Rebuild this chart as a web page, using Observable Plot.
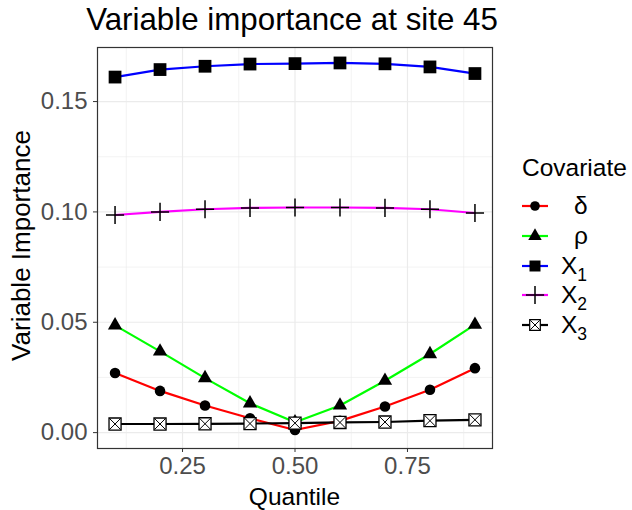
<!DOCTYPE html>
<html><head><meta charset="utf-8">
<script src="https://cdn.jsdelivr.net/npm/d3@7"></script>
<script src="https://cdn.jsdelivr.net/npm/@observablehq/plot@0.6"></script>
<style>body{margin:0;background:#fff}</style>
</head><body><div id="chart"></div>
<script>
const quantiles = [0.1, 0.2, 0.3, 0.4, 0.5, 0.6, 0.7, 0.8, 0.9];
const delta = [0.0270, 0.0189, 0.0123, 0.0065, 0.0012, 0.0053, 0.0118, 0.0194, 0.0292];
const rho   = [0.0486, 0.0368, 0.0247, 0.0133, 0.0047, 0.0123, 0.0235, 0.0356, 0.0489];
const x1    = [0.1611, 0.1645, 0.1660, 0.1670, 0.1672, 0.1675, 0.1671, 0.1657, 0.1627];
const x2    = [0.0986, 0.1000, 0.1012, 0.1018, 0.1020, 0.1020, 0.1018, 0.1012, 0.0995];
const x3    = [0.0039, 0.0039, 0.0040, 0.0041, 0.0043, 0.0046, 0.0048, 0.0054, 0.0058];
const seriesKeys = ["delta", "rho", "X1", "X2", "X3"];
const seriesLabels = [["δ", ""], ["ρ", ""], ["X", "1"], ["X", "2"], ["X", "3"]];
const seriesColors = ["#ff0000", "#00ff00", "#0000ff", "#ff00ff", "#000000"];
const xTicks = [0.25, 0.5, 0.75];
const yTicks = [0, 0.05, 0.1, 0.15];
const xMinor = [0.125, 0.375, 0.625, 0.875];
const yMinor = [0.025, 0.075, 0.125];
const titleText = "Variable importance at site 45";
const xLabel = "Quantile";
const yLabel = "Variable Importance";
const legendTitle = "Covariate";

const values = [delta, rho, x1, x2, x3];
const table = seriesKeys.flatMap((k, i) => values[i].map((v, j) => ({q: quantiles[j], v, s: k})));
const only = k => table.filter(d => d.s === k);

const W = 632, H = 510;
const mL = 97, mR = 140, mT = 47, mB = 62;
const font = "'Liberation Sans', Arial, sans-serif";

const plot = Plot.plot({
  width: W, height: H,
  marginLeft: mL, marginRight: mR, marginTop: mT, marginBottom: mB,
  style: {fontFamily: font, background: "white"},
  x: {domain: [0.061, 0.939], label: null},
  y: {domain: [-0.0072, 0.1745], label: null},
  color: {domain: seriesKeys, range: seriesColors},
  marks: [
    Plot.gridX(xMinor, {stroke: "#ebebeb", strokeOpacity: 1, strokeWidth: 0.6}),
    Plot.gridY(yMinor, {stroke: "#ebebeb", strokeOpacity: 1, strokeWidth: 0.6}),
    Plot.gridX(xTicks, {stroke: "#ebebeb", strokeOpacity: 1, strokeWidth: 1.2}),
    Plot.gridY(yTicks, {stroke: "#ebebeb", strokeOpacity: 1, strokeWidth: 1.2}),
    Plot.line(table, {x: "q", y: "v", z: "s", stroke: "s", strokeWidth: 2.2}),
    Plot.dot(only("delta"), {x: "q", y: "v", symbol: "circle", r: 5.3, fill: "black"}),
    Plot.dot(only("rho"), {x: "q", y: "v", symbol: "triangle", r: 5.3, fill: "black"}),
    Plot.dot(only("X1"), {x: "q", y: "v", symbol: "square", r: 7.2, fill: "black"}),
    Plot.dot(only("X2"), {x: "q", y: "v", symbol: "plus", r: 5.9, stroke: "black", strokeWidth: 1.5}),
    Plot.dot(only("X3"), {x: "q", y: "v", symbol: "square", r: 6.8, fill: "white", stroke: "black", strokeWidth: 1.3}),
    Plot.dot(only("X3"), {x: "q", y: "v", symbol: "times", r: 5.0, stroke: "black", strokeWidth: 1}),
    Plot.frame({stroke: "#333333", strokeWidth: 1.2}),
    Plot.axisX(xTicks, {tickFormat: d3.format(".2f"), fontSize: 24, tickSize: 4, tickPadding: 4, fill: "#4d4d4d", stroke: "#333333", label: null}),
    Plot.axisY(yTicks, {tickFormat: d3.format(".2f"), fontSize: 24, tickSize: 4, tickPadding: 6, fill: "#4d4d4d", stroke: "#333333", label: null})
  ]
});

const svg = d3.select(plot);
const cx = mL + (W - mL - mR) / 2;
svg.append("text").attr("x", 292).attr("y", 30).attr("text-anchor", "middle")
  .attr("font-size", 31.3).attr("fill", "black").text(titleText);
svg.append("text").attr("x", cx).attr("y", 505).attr("text-anchor", "middle")
  .attr("font-size", 24.5).attr("fill", "black").text(xLabel);
svg.append("text").attr("transform", `translate(30,${mT + (H - mT - mB) / 2 - 2}) rotate(-90)`)
  .attr("text-anchor", "middle").attr("font-size", 26).attr("fill", "black").text(yLabel);

const lg = svg.append("g").attr("text-anchor", "start");
lg.append("text").attr("x", 522).attr("y", 176).attr("text-anchor", "start").attr("font-size", 24.5).attr("fill", "black").text(legendTitle);
const rowY = [206, 236, 266, 295, 325];
const sym = (type, r) => d3.symbol(type, r * r * Math.PI)();
seriesKeys.forEach((k, i) => {
  const y = rowY[i];
  const g = lg.append("g").attr("transform", `translate(0,${y})`);
  g.append("line").attr("x1", 522).attr("x2", 548).attr("y1", 0).attr("y2", 0)
    .attr("stroke", seriesColors[i]).attr("stroke-width", 2.2);
  const t = `translate(535,0)`;
  if (k === "delta") g.append("path").attr("transform", t).attr("d", sym(d3.symbolCircle, 4.8)).attr("fill", "black");
  if (k === "rho") g.append("path").attr("transform", t).attr("d", sym(d3.symbolTriangle, 5.0)).attr("fill", "black");
  if (k === "X1") g.append("path").attr("transform", t).attr("d", sym(d3.symbolSquare, 6.2)).attr("fill", "black");
  if (k === "X2") g.append("path").attr("transform", t).attr("d", sym(d3.symbolPlus, 5.9)).attr("fill", "none").attr("stroke", "black").attr("stroke-width", 1.5);
  if (k === "X3") {
    g.append("path").attr("transform", t).attr("d", sym(d3.symbolSquare, 6.0)).attr("fill", "white").attr("stroke", "black").attr("stroke-width", 1.2);
    g.append("path").attr("transform", t).attr("d", sym(d3.symbolTimes, 4.4)).attr("fill", "none").attr("stroke", "black").attr("stroke-width", 1);
  }
  const [main, sub] = seriesLabels[i];
  const tx = g.append("text").attr("x", sub ? 561 : 574).attr("y", 8).attr("text-anchor", "start").attr("font-size", 24.5).attr("fill", "black");
  tx.append("tspan").text(main);
  if (sub) tx.append("tspan").attr("dy", 7).attr("font-size", 17.5).text(sub);
});

document.getElementById("chart").appendChild(plot);
</script>
</body></html>
